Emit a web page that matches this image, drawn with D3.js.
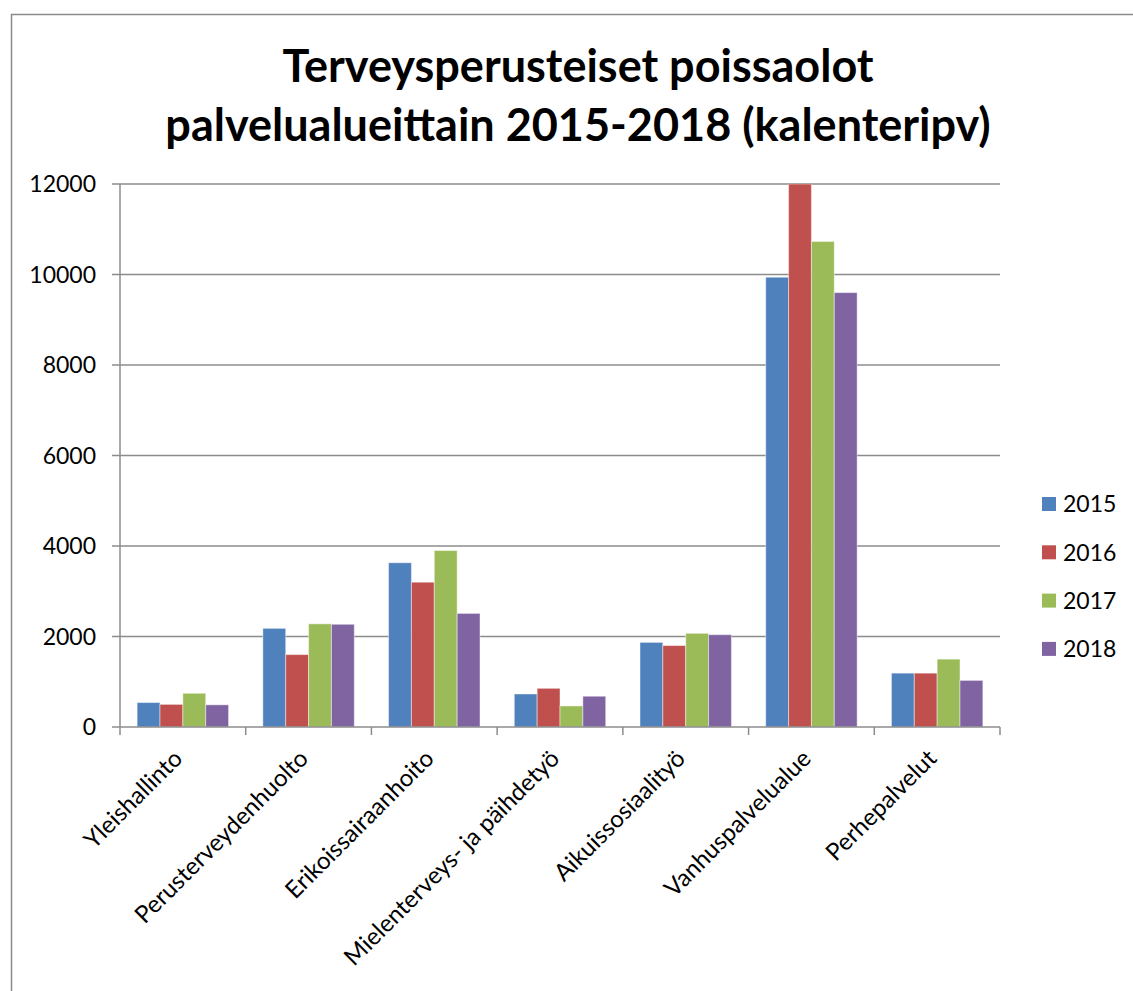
<!DOCTYPE html>
<meta charset="utf-8">
<html>
<head>
  <title>Terveysperusteiset poissaolot</title>
  <style type="text/css">
    body{margin:0; background:#fff;}
    text{font-family: Lato, "Liberation Sans", sans-serif; fill:#000;}
  </style>
</head>
<body>
  <script src="https://cdn.jsdelivr.net/npm/d3@7"></script>
  <script>
    var categories = ['Yleishallinto', 'Perusterveydenhuolto', 'Erikoissairaanhoito',
      'Mielenterveys- ja päihdetyö', 'Aikuissosiaalityö', 'Vanhuspalvelualue', 'Perhepalvelut'];
    var years = ['2015', '2016', '2017', '2018'];
    var v2015 = [540, 2180, 3630, 730, 1870, 9940, 1190];
    var v2016 = [500, 1600, 3200, 855, 1800, 12000, 1190];
    var v2017 = [745, 2280, 3900, 465, 2070, 10730, 1500];
    var v2018 = [490, 2270, 2510, 680, 2040, 9600, 1030];
    var yTicks = [0, 2000, 4000, 6000, 8000, 10000, 12000];
    var colors = ['#4F81BD', '#C0504D', '#9BBB59', '#8064A2'];

    var series = [v2015, v2016, v2017, v2018];

    var width = 1133,
        height = 991,
        plotLeft = 120, plotRight = 1000, plotTop = 184, plotBottom = 727;

    var svg = d3.select('body')
        .append('svg')
        .attr('width', width)
        .attr('height', height);

    // outer chart frame
    svg.append('rect')
      .attr('x', 11.5).attr('y', 14.5)
      .attr('width', 1200).attr('height', 1200)
      .style('fill', 'none').style('stroke', '#8a8a8a').style('stroke-width', 1.5);

    // title
    var title = svg.append('text')
      .attr('text-anchor', 'middle')
      .style('font-size', '45px').style('font-weight', 'bold');
    title.append('tspan').attr('x', 578).attr('y', 82).text('Terveysperusteiset poissaolot');
    title.append('tspan').attr('x', 578).attr('y', 141).text('palvelualueittain 2015-2018 (kalenteripv)');

    var x0 = d3.scaleBand().domain(categories).range([plotLeft, plotRight]);
    var x1 = d3.scaleBand().domain(years).range([0, x0.bandwidth()])
      .paddingOuter(0.75).paddingInner(0);
    var y = d3.scaleLinear().domain([0, 12000]).range([plotBottom, plotTop]);

    // gridlines
    svg.append('g').selectAll('line')
      .data(yTicks.slice(1))
      .enter().append('line')
      .attr('x1', plotLeft - 8).attr('x2', plotRight)
      .attr('y1', function(d){return y(d)}).attr('y2', function(d){return y(d)})
      .style('stroke', '#8c8c8c').style('stroke-width', 1.5);

    svg.append('g').selectAll('text')
      .data(yTicks)
      .enter().append('text')
      .attr('x', 96).attr('y', function(d){return y(d)})
      .attr('dy', '0.35em')
      .attr('text-anchor', 'end')
      .style('font-size', '23px')
      .text(function(d){return d});

    svg.append('clipPath').attr('id', 'plot')
      .append('rect').attr('x', plotLeft).attr('y', plotTop)
      .attr('width', plotRight - plotLeft).attr('height', plotBottom - plotTop);

    // bars
    var groups = svg.append('g').attr('clip-path', 'url(#plot)')
      .selectAll('g')
      .data(categories)
      .enter().append('g')
      .attr('transform', function(d){return 'translate(' + x0(d) + ',0)'});

    groups.selectAll('rect')
      .data(function(d, i){return years.map(function(yr, j){return {year: yr, value: series[j][i], k: j}})})
      .enter().append('rect')
      .attr('x', function(d){return x1(d.year)})
      .attr('width', x1.bandwidth())
      .attr('y', function(d){return y(d.value)})
      .attr('height', function(d){return plotBottom - y(d.value)})
      .style('fill', function(d){return colors[d.k]})
      .style('stroke', 'rgba(255,255,255,0.45)').style('stroke-width', 1);

    // axis lines
    svg.append('line')
      .attr('x1', plotLeft).attr('x2', plotLeft).attr('y1', plotTop).attr('y2', plotBottom)
      .style('stroke', '#8c8c8c').style('stroke-width', 1.5);
    svg.append('line')
      .attr('x1', plotLeft - 8).attr('x2', plotRight).attr('y1', plotBottom).attr('y2', plotBottom)
      .style('stroke', '#8c8c8c').style('stroke-width', 1.5);

    var tickX = categories.map(function(c){return x0(c)}).concat([plotRight]);
    svg.append('g').selectAll('line')
      .data(tickX)
      .enter().append('line')
      .attr('x1', function(d){return d}).attr('x2', function(d){return d})
      .attr('y1', plotBottom).attr('y2', plotBottom + 8)
      .style('stroke', '#8c8c8c').style('stroke-width', 1.5);

    // category labels
    svg.append('g').selectAll('text')
      .data(categories)
      .enter().append('text')
      .attr('text-anchor', 'end')
      .attr('transform', function(d){
        return 'translate(' + (x0(d) + x0.bandwidth()/2 + 1) + ',' + (plotBottom + 33) + ') rotate(-45)';
      })
      .style('font-size', '24px')
      .text(function(d){return d});

    // legend
    var legend = svg.append('g').selectAll('g')
      .data(years)
      .enter().append('g')
      .attr('transform', function(d, i){return 'translate(1042,' + (504 + i*48.3) + ')'});
    legend.append('rect')
      .attr('x', 0).attr('y', -7).attr('width', 14).attr('height', 14)
      .style('fill', function(d, i){return colors[i]});
    legend.append('text')
      .attr('x', 21).attr('dy', '0.36em')
      .style('font-size', '23px')
      .text(function(d){return d});
  </script>
</body>
</html>
